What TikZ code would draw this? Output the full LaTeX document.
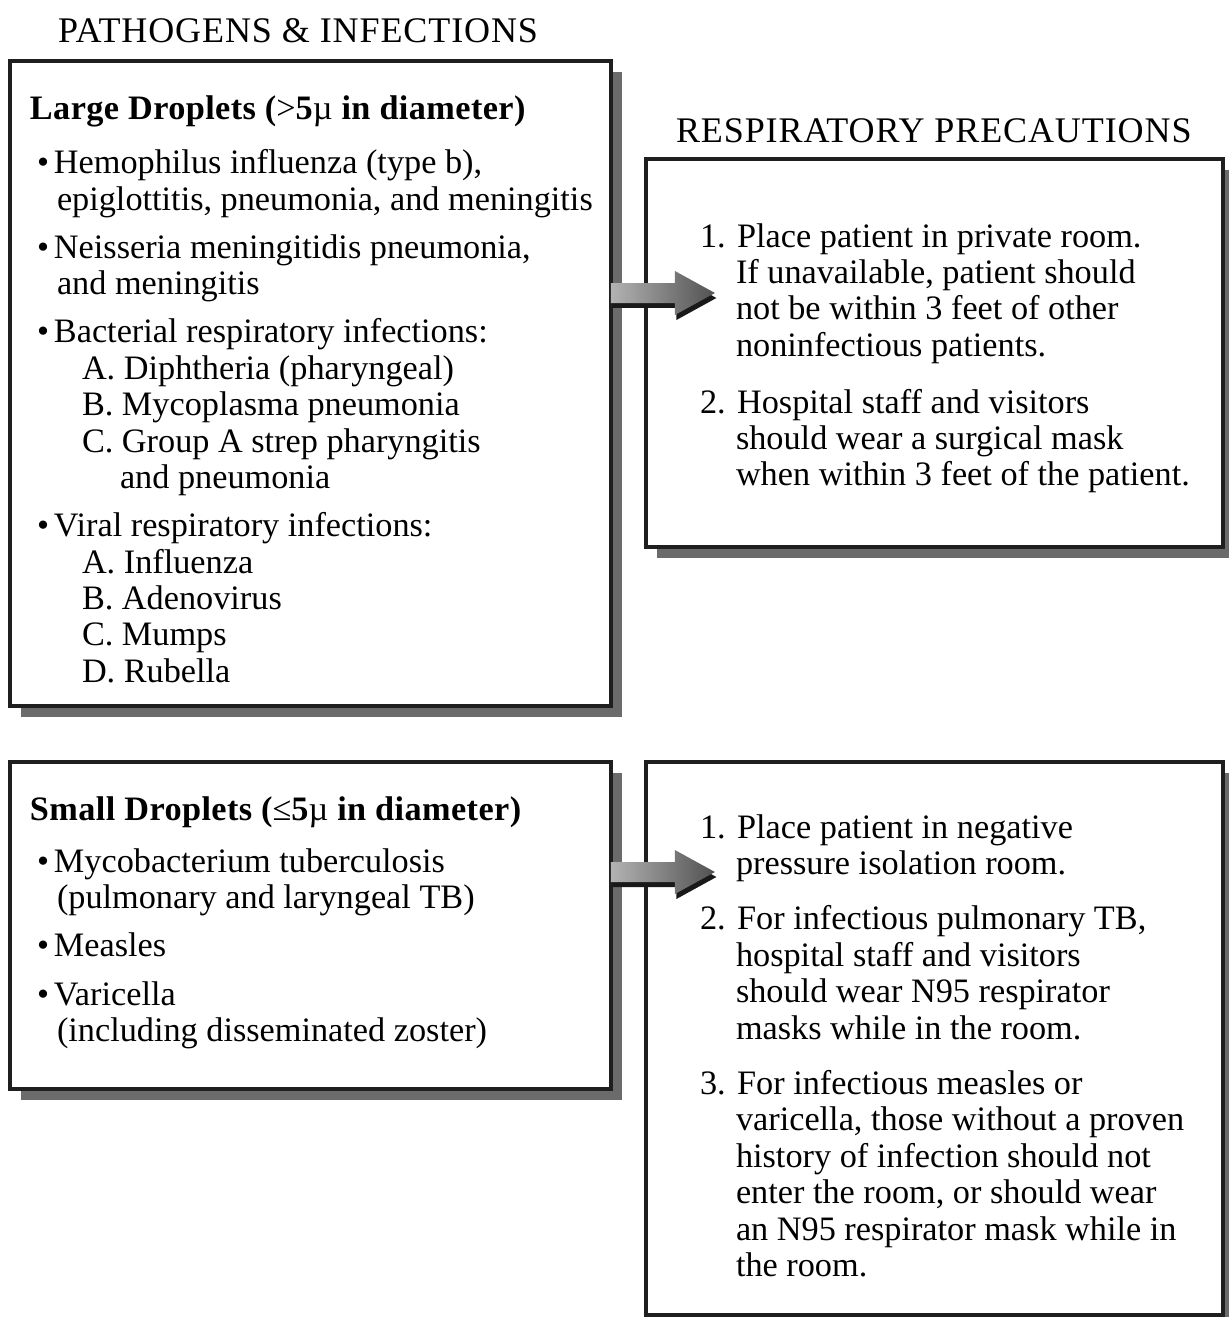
\documentclass[tikz,border=0pt]{standalone}
\usepackage{fontspec}
\setmainfont{Liberation Serif}
\usepackage{tikz}
\usetikzlibrary{shadows}
\newcommand{\bodyfont}{\fontsize{19.5pt}{23pt}\selectfont}
\newcommand{\titlefont}{\fontsize{20.5pt}{24pt}\selectfont\addfontfeature{LetterSpace=2.5}}
\newcommand{\bul}{\makebox[0.34cm][l]{•}}
\tikzset{
  panel/.style={draw=black!88, line width=0.09cm, fill=white, inner sep=0pt, outer sep=0pt,
    anchor=north west, drop shadow={shadow xshift=0.22cm, shadow yshift=-0.22cm, fill=black!58, opacity=1}},
  txt/.style={anchor=base west, inner sep=0pt, outer sep=0pt, font=\bodyfont},
  head/.style={txt, font=\bodyfont\bfseries\addfontfeature{LetterSpace=1.2}},
  ttl/.style={txt, font=\titlefont},
  pointer/.style={left color=black!30, right color=black!68,
    drop shadow={shadow xshift=0.03cm, shadow yshift=-0.1cm, fill=black!90, opacity=1}}
}
\begin{document}
\begin{tikzpicture}[x=0.02cm, y=-0.02cm]
  \useasboundingbox (0,0) rectangle (1228,1317);

  % boxes
  \node[panel, minimum width=12.02cm, minimum height=12.9cm] (large) at (10,61) {};
  \node[panel, minimum width=11.54cm, minimum height=7.76cm] (prec1) at (646,159) {};
  \node[panel, minimum width=12.02cm, minimum height=6.54cm] (small) at (10,762) {};
  \node[panel, minimum width=11.54cm, minimum height=11.06cm] (prec2) at (646,762) {};

  % titles
  \node[ttl] (ttl1) at (58,43) {PATHOGENS \& INFECTIONS};
  \node[ttl] (ttl2) at (676,143) {RESPIRATORY PRECAUTIONS};

  % large droplets
  \node[head] (hd1) at (30,120) {Large Droplets ({\mdseries >}5{\mdseries µ} in diameter)};
  \foreach \x/\y/\t [count=\i] in {
      37/174/{\bul Hemophilus influenza (type b),},
      57/211/{epiglottitis, pneumonia, and meningitis},
      37/259/{\bul Neisseria meningitidis pneumonia,},
      57/295/{and meningitis},
      37/343/{\bul Bacterial respiratory infections:},
      82/379/{A. Diphtheria (pharyngeal)},
      82/416/{B. Mycoplasma pneumonia},
      82/452/{C. Group A strep pharyngitis},
      120/488/{and pneumonia},
      37/536/{\bul Viral respiratory infections:},
      82/573/{A. Influenza},
      82/609/{B. Adenovirus},
      82/645/{C. Mumps},
      82/682/{D. Rubella}}
    \node[txt] (la\i) at (\x,\y) {\t};

  % precautions for large droplets
  \foreach \x/\y/\t [count=\i] in {
      700/248/{1. Place patient in private room.},
      736/284/{If unavailable, patient should},
      736/320/{not be within 3 feet of other},
      736/357/{noninfectious patients.},
      700/413/{2. Hospital staff and visitors},
      736/449/{should wear a surgical mask},
      736/485/{when within 3 feet of the patient.}}
    \node[txt] (pa\i) at (\x,\y) {\t};

  % small droplets
  \node[head] (hd2) at (30,820) {Small Droplets ({\mdseries ≤}5{\mdseries µ} in diameter)};
  \foreach \x/\y/\t [count=\i] in {
      37/872/{\bul Mycobacterium tuberculosis},
      57/908/{(pulmonary and laryngeal TB)},
      37/956/{\bul Measles},
      37/1005/{\bul Varicella},
      57/1041/{(including disseminated zoster)}}
    \node[txt] (sa\i) at (\x,\y) {\t};

  % precautions for small droplets
  \foreach \x/\y/\t [count=\i] in {
      700/838/{1. Place patient in negative},
      736/874/{pressure isolation room.},
      700/929/{2. For infectious pulmonary TB,},
      736/966/{hospital staff and visitors},
      736/1002/{should wear N95 respirator},
      736/1039/{masks while in the room.},
      700/1094/{3. For infectious measles or},
      736/1130/{varicella, those without a proven},
      736/1167/{history of infection should not},
      736/1203/{enter the room, or should wear},
      736/1240/{an N95 respirator mask while in},
      736/1276/{the room.}}
    \node[txt] (pb\i) at (\x,\y) {\t};

  % arrows
  \coordinate (a1) at (large.east |- 0,293);
  \coordinate (a2) at (small.east |- 0,872);
  \foreach \a in {a1,a2}
    \path[pointer] ([yshift=0.2cm]\a) -- ++(64,0) -- ++(0,-12) -- ++(40,22) -- ++(-40,22)
      -- ++(0,-12) -- ++(-64,0) -- cycle;
\end{tikzpicture}
\end{document}
